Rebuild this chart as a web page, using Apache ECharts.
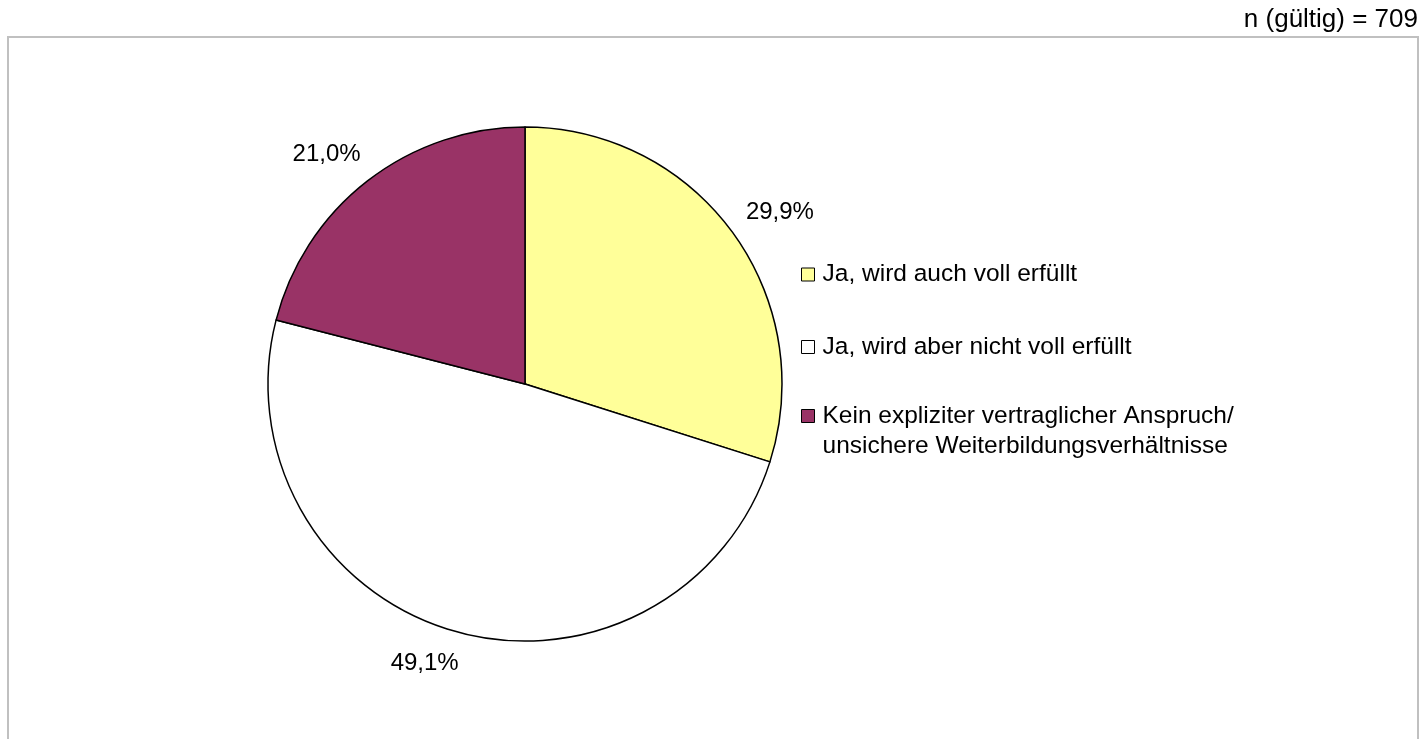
<!DOCTYPE html>
<html>
<head>
<meta charset="utf-8">
<script src="https://cdn.jsdelivr.net/npm/echarts@6/dist/echarts.min.js"></script>
<style>
  html, body { margin: 0; padding: 0; background: #ffffff; }
  #chart { width: 1425px; height: 739px; }
</style>
</head>
<body>
<div id="chart"></div>
<script>
// Answer categories, shares in percent and slice colours
const categories = [
  'Ja, wird auch voll erfüllt',
  'Ja, wird aber nicht voll erfüllt',
  'Kein expliziter vertraglicher Anspruch/\nunsichere Weiterbildungsverhältnisse'
];
const shares = [29.9, 49.1, 21.0];
const sliceColors = ['#ffff99', '#ffffff', '#993366'];
const sampleNote = 'n (gültig) = 709';

const FONT = '"Liberation Sans", Arial, sans-serif';

const chart = echarts.init(document.getElementById('chart'), null, { renderer: 'canvas' });

const pieData = categories.map((name, i) => ({
  name: name,
  value: shares[i],
  itemStyle: { color: sliceColors[i] }
}));

// One legend block per entry so each row sits on its own line.
// A two-line entry gets an empty leading line so its first line
// lines up with the colour box.
const legendTops = [259.5, 332, 371];
const legends = categories.map((name, i) => ({
  orient: 'vertical',
  left: 801,
  top: legendTops[i],
  padding: 0,
  icon: 'rect',
  itemWidth: 13,
  itemHeight: 13,
  selectedMode: false,
  itemStyle: { borderColor: '#000000', borderWidth: 1 },
  formatter: n => (n.indexOf('\n') >= 0 ? '\n' + n : n),
  textStyle: {
    fontFamily: FONT,
    fontSize: 24.5,
    color: '#000000',
    lineHeight: 30,
    padding: [0, 0, 0, 3]
  },
  data: [name]
}));

chart.setOption({
  animation: false,
  backgroundColor: '#ffffff',
  title: {
    text: sampleNote,
    right: 7,
    top: 7,
    padding: 0,
    textStyle: { fontFamily: FONT, fontSize: 26, fontWeight: 'normal', color: '#000000' }
  },
  graphic: [{
    type: 'rect',
    silent: true,
    shape: { x: 8, y: 37, width: 1410, height: 800 },
    style: { fill: 'none', stroke: '#c0c0c0', lineWidth: 2 }
  }],
  legend: legends,
  series: [{
    type: 'pie',
    center: [525, 384],
    radius: 257,
    startAngle: 90,
    clockwise: true,
    avoidLabelOverlap: false,
    data: pieData,
    itemStyle: { borderColor: '#000000', borderWidth: 1.5 },
    emphasis: { disabled: true },
    label: {
      show: true,
      position: 'outside',
      fontFamily: FONT,
      fontSize: 24,
      color: '#000000',
      formatter: p => p.value.toFixed(1).replace('.', ',') + '%'
    },
    labelLine: { show: false, length: 34, length2: -19 }
  }]
});
</script>
</body>
</html>
